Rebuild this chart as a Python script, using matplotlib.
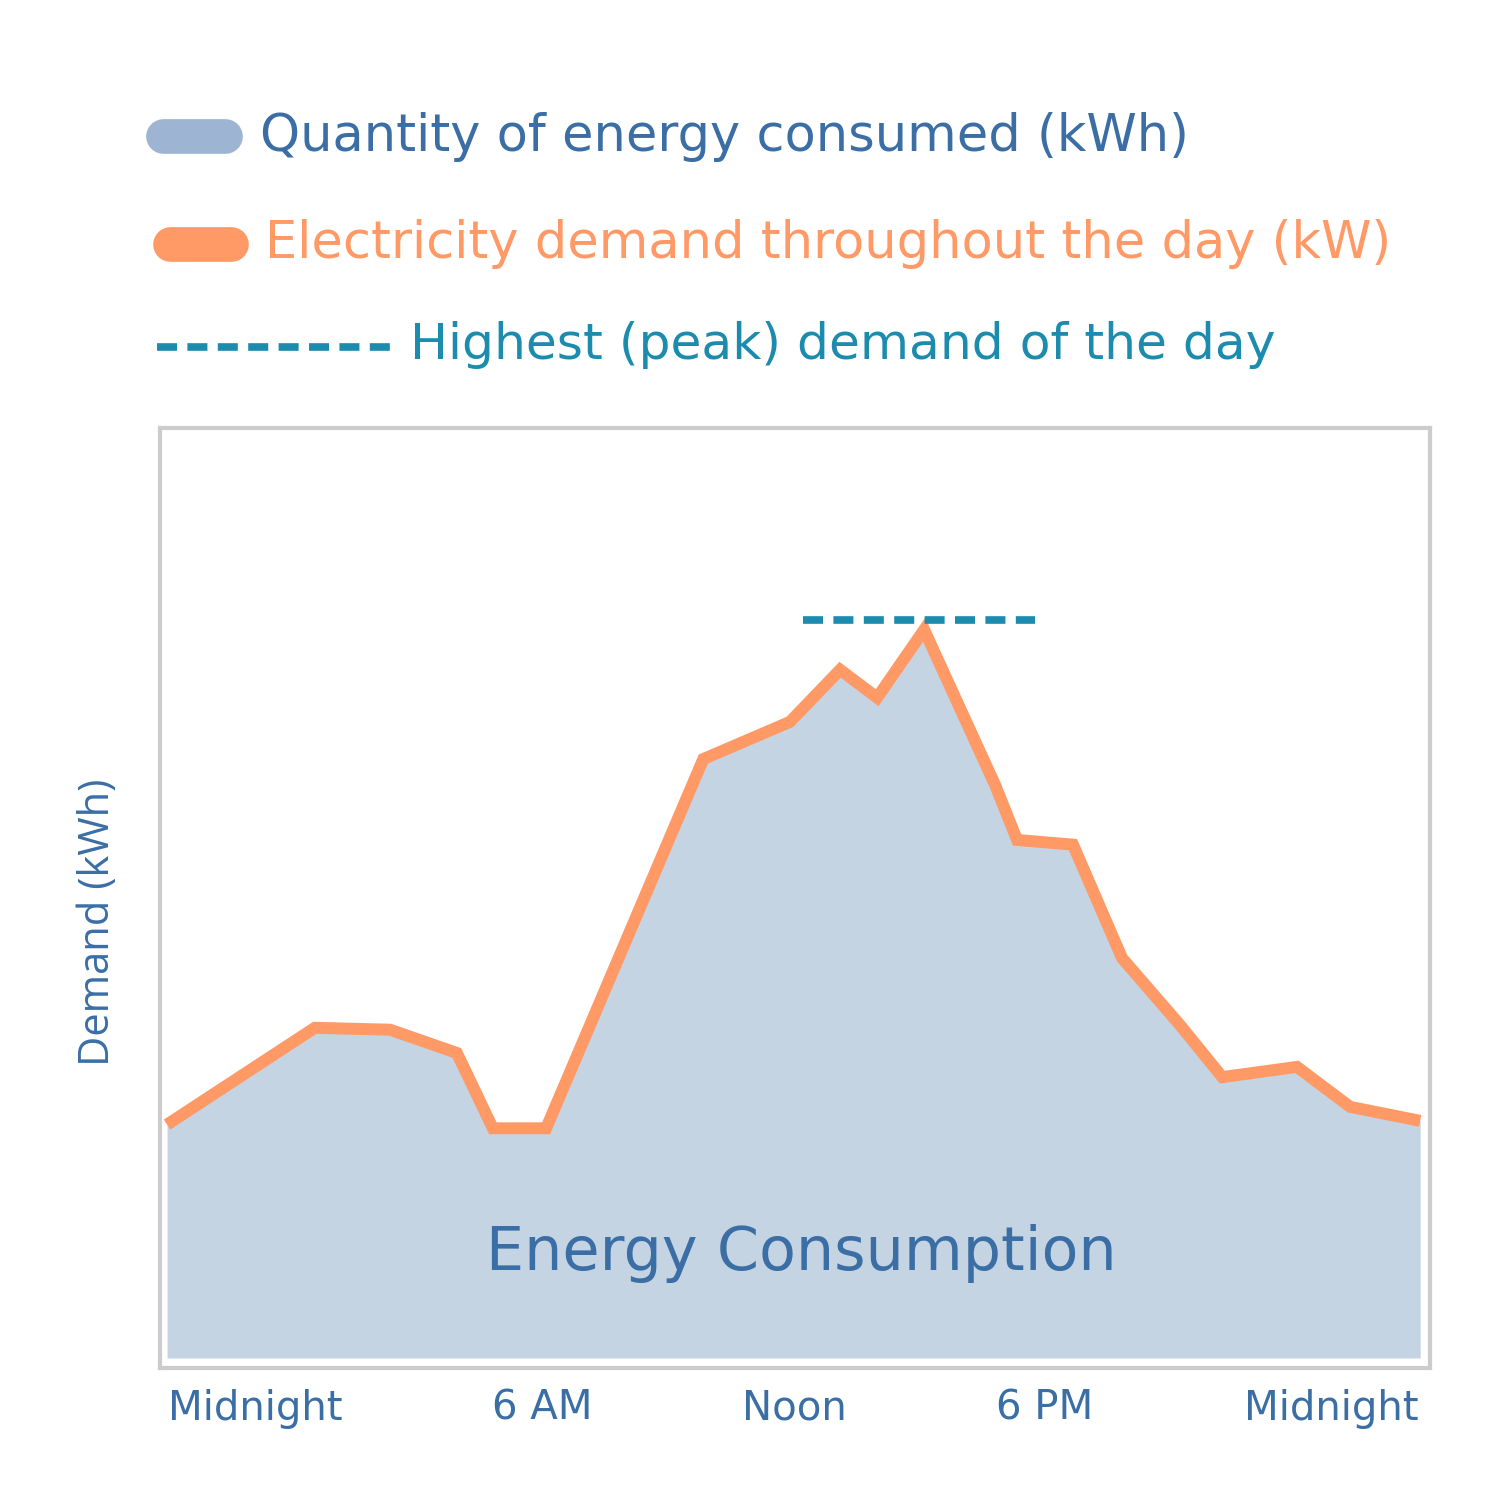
import matplotlib
matplotlib.use("Agg")
import matplotlib.pyplot as plt
from matplotlib.lines import Line2D

# hours of day for each vertex of the demand curve
hours = [0.0, 2.83, 4.27, 5.55, 6.24, 7.26, 10.27, 11.93, 12.89, 13.60,
         14.50, 15.86, 16.28, 17.35, 18.29, 19.40, 20.21, 21.64, 22.66, 24.0]
demand = [25.1, 35.5, 35.3, 32.8, 24.7, 24.7, 64.4, 68.4, 74.0, 71.0,
          78.3, 61.6, 55.7, 55.2, 43.0, 35.8, 30.2, 31.3, 27.0, 25.5]

peak_start, peak_end = 12.18, 16.63
peak_value = 79.4

tick_pos = [1.70, 7.18, 12.01, 16.80, 22.30]
tick_labels = ["Midnight", "6 AM", "Noon", "6 PM", "Midnight"]

FILL = "#C5D4E3"
ORANGE = "#FF9966"
BLUE = "#3A6EA5"
TEAL = "#1B8BAE"
FONT = "DejaVu Sans"
DASHES = (2.62, 1.36)

fig = plt.figure(figsize=(15, 15), dpi=100)
ax = fig.add_axes([0.1067, 0.088, 0.8467, 0.6267])

ax.fill_between(hours, 0, demand, color=FILL, linewidth=0)
ax.plot(hours, demand, color=ORANGE, linewidth=8.6, solid_joinstyle="miter",
        solid_capstyle="butt")
ax.plot([peak_start, peak_end], [peak_value, peak_value], color=TEAL,
        linewidth=5.5, dashes=DASHES)

ax.set_xlim(-0.134, 24.19)
ax.set_ylim(-1.075, 100)
ax.set_yticks([])
ax.set_xticks(tick_pos)
ax.set_xticklabels(tick_labels, fontsize=29, color=BLUE, family=FONT)
ax.tick_params(axis="x", length=0, pad=15)
for spine in ax.spines.values():
    spine.set_color("#CCCCCC")
    spine.set_linewidth(3)

ax.text(12.15, 11.2, "Energy Consumption", ha="center", va="center",
        fontsize=43.5, color=BLUE, family=FONT)

fig.text(0.065, 0.385, "Demand (kWh)", rotation=90, ha="center", va="center",
         fontsize=30, color=BLUE, family="Open Sans")

# legend drawn by hand in figure coordinates
def pill(y, x0, x1, color):
    fig.add_artist(Line2D([x0, x1], [y, y], transform=fig.transFigure,
                          color=color, linewidth=25, solid_capstyle="round"))

pill(1 - 136 / 1500, 163 / 1500, 225 / 1500, "#9DB5D3")
pill(1 - 244 / 1500, 170 / 1500, 231 / 1500, ORANGE)
fig.add_artist(Line2D([157 / 1500, 390 / 1500], [1 - 347 / 1500] * 2,
                      transform=fig.transFigure, color=TEAL, linewidth=5.5,
                      dashes=DASHES))

fig.text(260 / 1500, 1 - 137 / 1500, "Quantity of energy consumed (kWh)",
         va="center", fontsize=36.7, color=BLUE, family=FONT)
fig.text(265 / 1500, 1 - 244 / 1500, "Electricity demand throughout the day (kW)",
         va="center", fontsize=36.7, color=ORANGE, family=FONT)
fig.text(410 / 1500, 1 - 345 / 1500, "Highest (peak) demand of the day",
         va="center", fontsize=36.3, color=TEAL, family=FONT)

fig.savefig("out.png", dpi=100, facecolor="white")
